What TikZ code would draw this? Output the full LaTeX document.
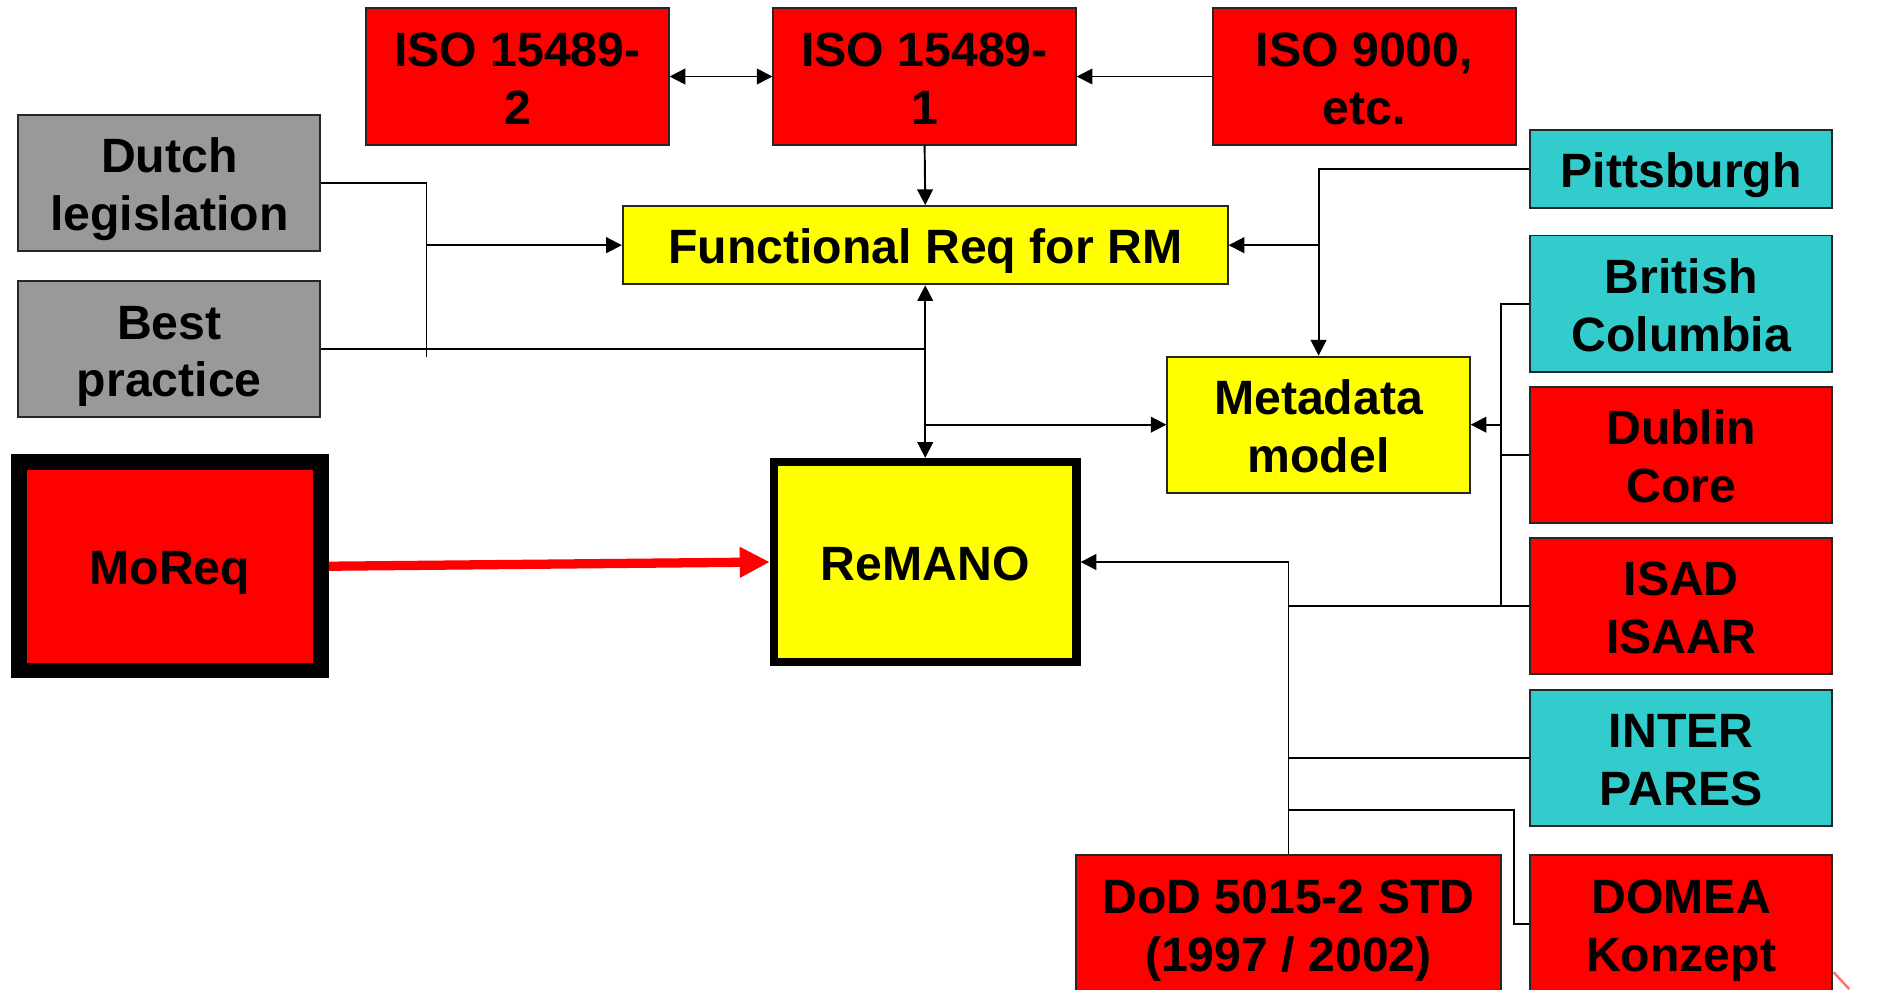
\documentclass[tikz,border=0pt]{standalone}
\usepackage{fontspec}
\setmainfont{Liberation Sans}
\usetikzlibrary{arrows.meta}
\definecolor{bred}{HTML}{FF0000}
\definecolor{byel}{HTML}{FFFF00}
\definecolor{bgray}{HTML}{999999}
\definecolor{bcyan}{HTML}{33CCCC}
\definecolor{pinkmark}{HTML}{FF7070}
\tikzset{
  box/.style={draw=black!85, line width=0.8pt, inner sep=0pt, align=flush center,
    text width=120pt,
    font=\bfseries\fontsize{20pt}{24pt}\selectfont,
    execute at begin node={\rule{0pt}{19.75pt}},
    execute at end node={\rule[-4.25pt]{0pt}{0pt}},
    minimum width=125.5pt, minimum height=56.5pt},
  redbox/.style={box, fill=bred},
  yelbox/.style={box, fill=byel},
  graybox/.style={box, fill=bgray},
  cyanbox/.style={box, fill=bcyan},
  conn/.style={draw=black, line width=0.8pt},
  arr/.style={conn, -{Triangle[length=6.5pt,width=6.5pt]}},
  darr/.style={conn, {Triangle[length=6.5pt,width=6.5pt]}-{Triangle[length=6.5pt,width=6.5pt]}},
  bigarr/.style={draw=bred, line width=3.85pt, -{Triangle[length=12.5pt,width=12pt]}}
}
\begin{document}
\begin{tikzpicture}[x=0.5pt,y=-0.5pt]
\useasboundingbox (0,0) rectangle (1568,821);
\clip (0,0) rectangle (1568,821);
\fill[white] (0,0) rectangle (1568,821);
% top row
\node[redbox] (iso2) at (429.5,63.5) {ISO 15489-\\2};
\node[redbox] (iso1) at (767.5,63.5) {ISO 15489-\\1};
\node[redbox] (iso9) at (1132.5,63.5) {ISO 9000,\\etc.};
% left
\node[graybox] (dutch) at (140.5,152) {Dutch\\legislation};
\node[graybox] (best) at (140.5,290) {Best\\practice};
\node[redbox, draw=black, line width=6.5pt, minimum height=86.5pt] (moreq) at (141,470) {MoReq};
% middle
\node[yelbox, text width=245pt, minimum width=251pt, minimum height=32.5pt] (func) at (768,203.5) {Functional Req for RM};
\node[yelbox, draw=black, line width=3.5pt, minimum height=83pt] (remano) at (768,466.5) {ReMANO};
\node[yelbox] (meta) at (1094.5,352.5) {Metadata\\model};
% right column
\node[cyanbox, minimum height=32.5pt] (pitt) at (1395.5,140.5) {Pittsburgh};
\node[cyanbox] (bc) at (1395.5,252) {British\\Columbia};
\node[redbox] (dublin) at (1395.5,377.5) {Dublin\\Core};
\node[redbox] (isad) at (1395.5,503) {ISAD\\ISAAR};
\node[cyanbox] (inter) at (1395.5,629) {INTER\\PARES};
\node[redbox, minimum height=57pt] (domea) at (1395.5,767) {DOMEA\\Konzept};
\node[redbox, text width=172pt, minimum width=176.5pt, minimum height=57pt] (dod) at (1069.5,767) {DoD 5015-2 STD\\(1997 / 2002)};
% helper coordinates
\coordinate (dj) at (354,296);
\coordinate (mb) at (1246,0);
\coordinate (dk) at (1257,672);
\coordinate (pm1) at (1522,807);
\coordinate (pm2) at (1535,821);
% connectors: top
\draw[darr] (iso2.east) -- (iso1.west);
\draw[arr] (iso9.west) -- (iso1.east);
\draw[arr] (iso1.south) -- (func.north);
% dutch / best
\draw[conn] (dutch.east) -| (dj);
\draw[arr] (dj |- func.west) -- (func.west);
\draw[conn] (best.east) -- (best.east -| func.south);
\draw[darr] (func.south) -- (remano.north);
\draw[arr] (func.south |- meta.west) -- (meta.west);
% pittsburgh
\draw[arr] (pitt.west) -| (meta.north);
\draw[arr] (meta.north |- func.east) -- (func.east);
% metadata bus
\draw[conn] (bc.west) -- (bc.west -| mb) -- (isad.west -| mb);
\draw[conn] (dublin.west) -- (dublin.west -| mb);
\draw[arr] (meta.east -| mb) -- (meta.east);
% remano bus
\draw[arr] (dod.north) |- (remano.east);
\draw[conn] (isad.west) -- (isad.west -| dod.north);
\draw[conn] (inter.west) -- (inter.west -| dod.north);
\draw[conn] (dod.north |- dk) -- (dk) |- (domea.west);
% moreq
\draw[bigarr] (moreq.east) -- (remano.west);
% small mark in the corner
\draw[pinkmark, line width=1pt] (pm1) -- (pm2);
\end{tikzpicture}
\end{document}
